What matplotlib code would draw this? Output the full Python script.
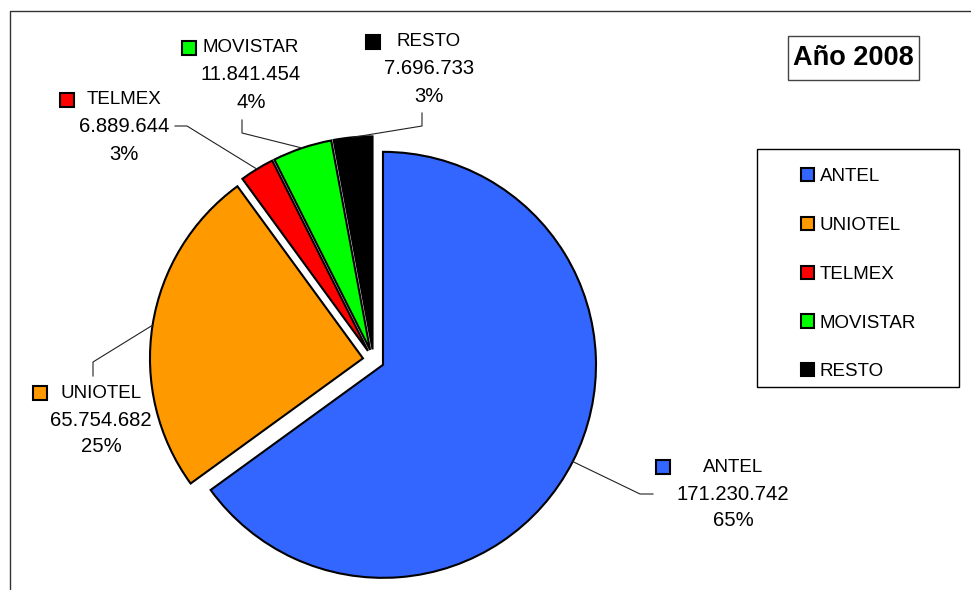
import matplotlib.pyplot as plt
from matplotlib.patches import Rectangle
import numpy as np

plt.rcParams['font.family'] = ['Liberation Sans', 'DejaVu Sans']

empresas = ['ANTEL', 'UNIOTEL', 'TELMEX', 'MOVISTAR', 'RESTO']
minutos = [171230742, 65754682, 6889644, 11841454, 7696733]
colores = ['#3366FF', '#FF9900', '#FF0000', '#00FF00', '#000000']
titulo = 'Año 2008'

# figure is laid out in pixels, origin top-left like the screenshot
W, H = 971, 590


def py(y):
    return H - y


# label blocks: marker position, text centre x, first line y
etiquetas = {
    'ANTEL': ((663, 467), 733, 467),
    'UNIOTEL': ((40, 393), 101, 393),
    'TELMEX': ((67, 100), 124, 100),
    'MOVISTAR': ((189, 48), 251, 48),
    'RESTO': ((373, 42), 429, 42),
}
# leader lines: bend point and end point
guias = {
    'ANTEL': [(640, 494), (653, 494)],
    'UNIOTEL': [(93, 362), (93, 376)],
    'TELMEX': [(187, 126), (175, 126)],
    'MOVISTAR': [(242, 133), (242, 120)],
    'RESTO': [(422, 126), (422, 113)],
}

fig = plt.figure(figsize=(W / 100, H / 100), dpi=100)
ax = fig.add_axes([0, 0, 1, 1])

R = 213
wedges, _ = ax.pie(minutos, colors=colores, startangle=90, counterclock=False,
                   radius=R, center=(373.5, py(360)), explode=[0.05 * R] * 5,
                   wedgeprops=dict(edgecolor='black', linewidth=1.5))

total = sum(minutos)
for w, nombre, v, c in zip(wedges, empresas, minutos, colores):
    tm = np.deg2rad((w.theta1 + w.theta2) / 2)
    sx = w.center[0] + R * np.cos(tm)
    sy = w.center[1] + R * np.sin(tm)
    (bx, by), (ex, ey) = guias[nombre]
    ax.plot([sx, bx, ex], [sy, py(by), py(ey)], color='#222222', lw=0.8)

    (mx, my), tx, ty = etiquetas[nombre]
    ax.plot(mx, py(my), marker='s', ms=9.5, mfc=c, mec='black', mew=1.5)
    valor = f"{v:,}".replace(',', '.')
    pct = f"{round(100 * v / total)}%"
    ax.text(tx, py(ty), nombre, ha='center', va='center', fontsize=13.5)
    ax.text(tx, py(ty + 27), valor, ha='center', va='center', fontsize=14.6)
    ax.text(tx, py(ty + 54), pct, ha='center', va='center', fontsize=14.6)

# legend
ax.add_patch(Rectangle((757, py(387)), 202, 238, fill=False, edgecolor='black', lw=1))
ax.legend(wedges, empresas, loc='upper left', bbox_to_anchor=(801, py(168)),
          bbox_transform=ax.transData, frameon=False, borderpad=0, borderaxespad=0,
          handlelength=0.7, handleheight=0.7, handletextpad=0.3, labelspacing=1.69,
          fontsize=13.5)

# title box
ax.add_patch(Rectangle((788, py(80)), 131, 44, fill=False, edgecolor='#444444', lw=1))
ax.text(853.5, py(58), titulo, ha='center', va='center', fontsize=19.5, fontweight='bold')

# chart area border (cut off on the right and bottom)
ax.plot([10, 10, W], [py(H), py(11), py(11)], color='#333333', lw=1)

ax.set_xlim(0, W)
ax.set_ylim(0, H)
ax.set_aspect('equal')
ax.axis('off')

fig.savefig('out.png', dpi=100)
